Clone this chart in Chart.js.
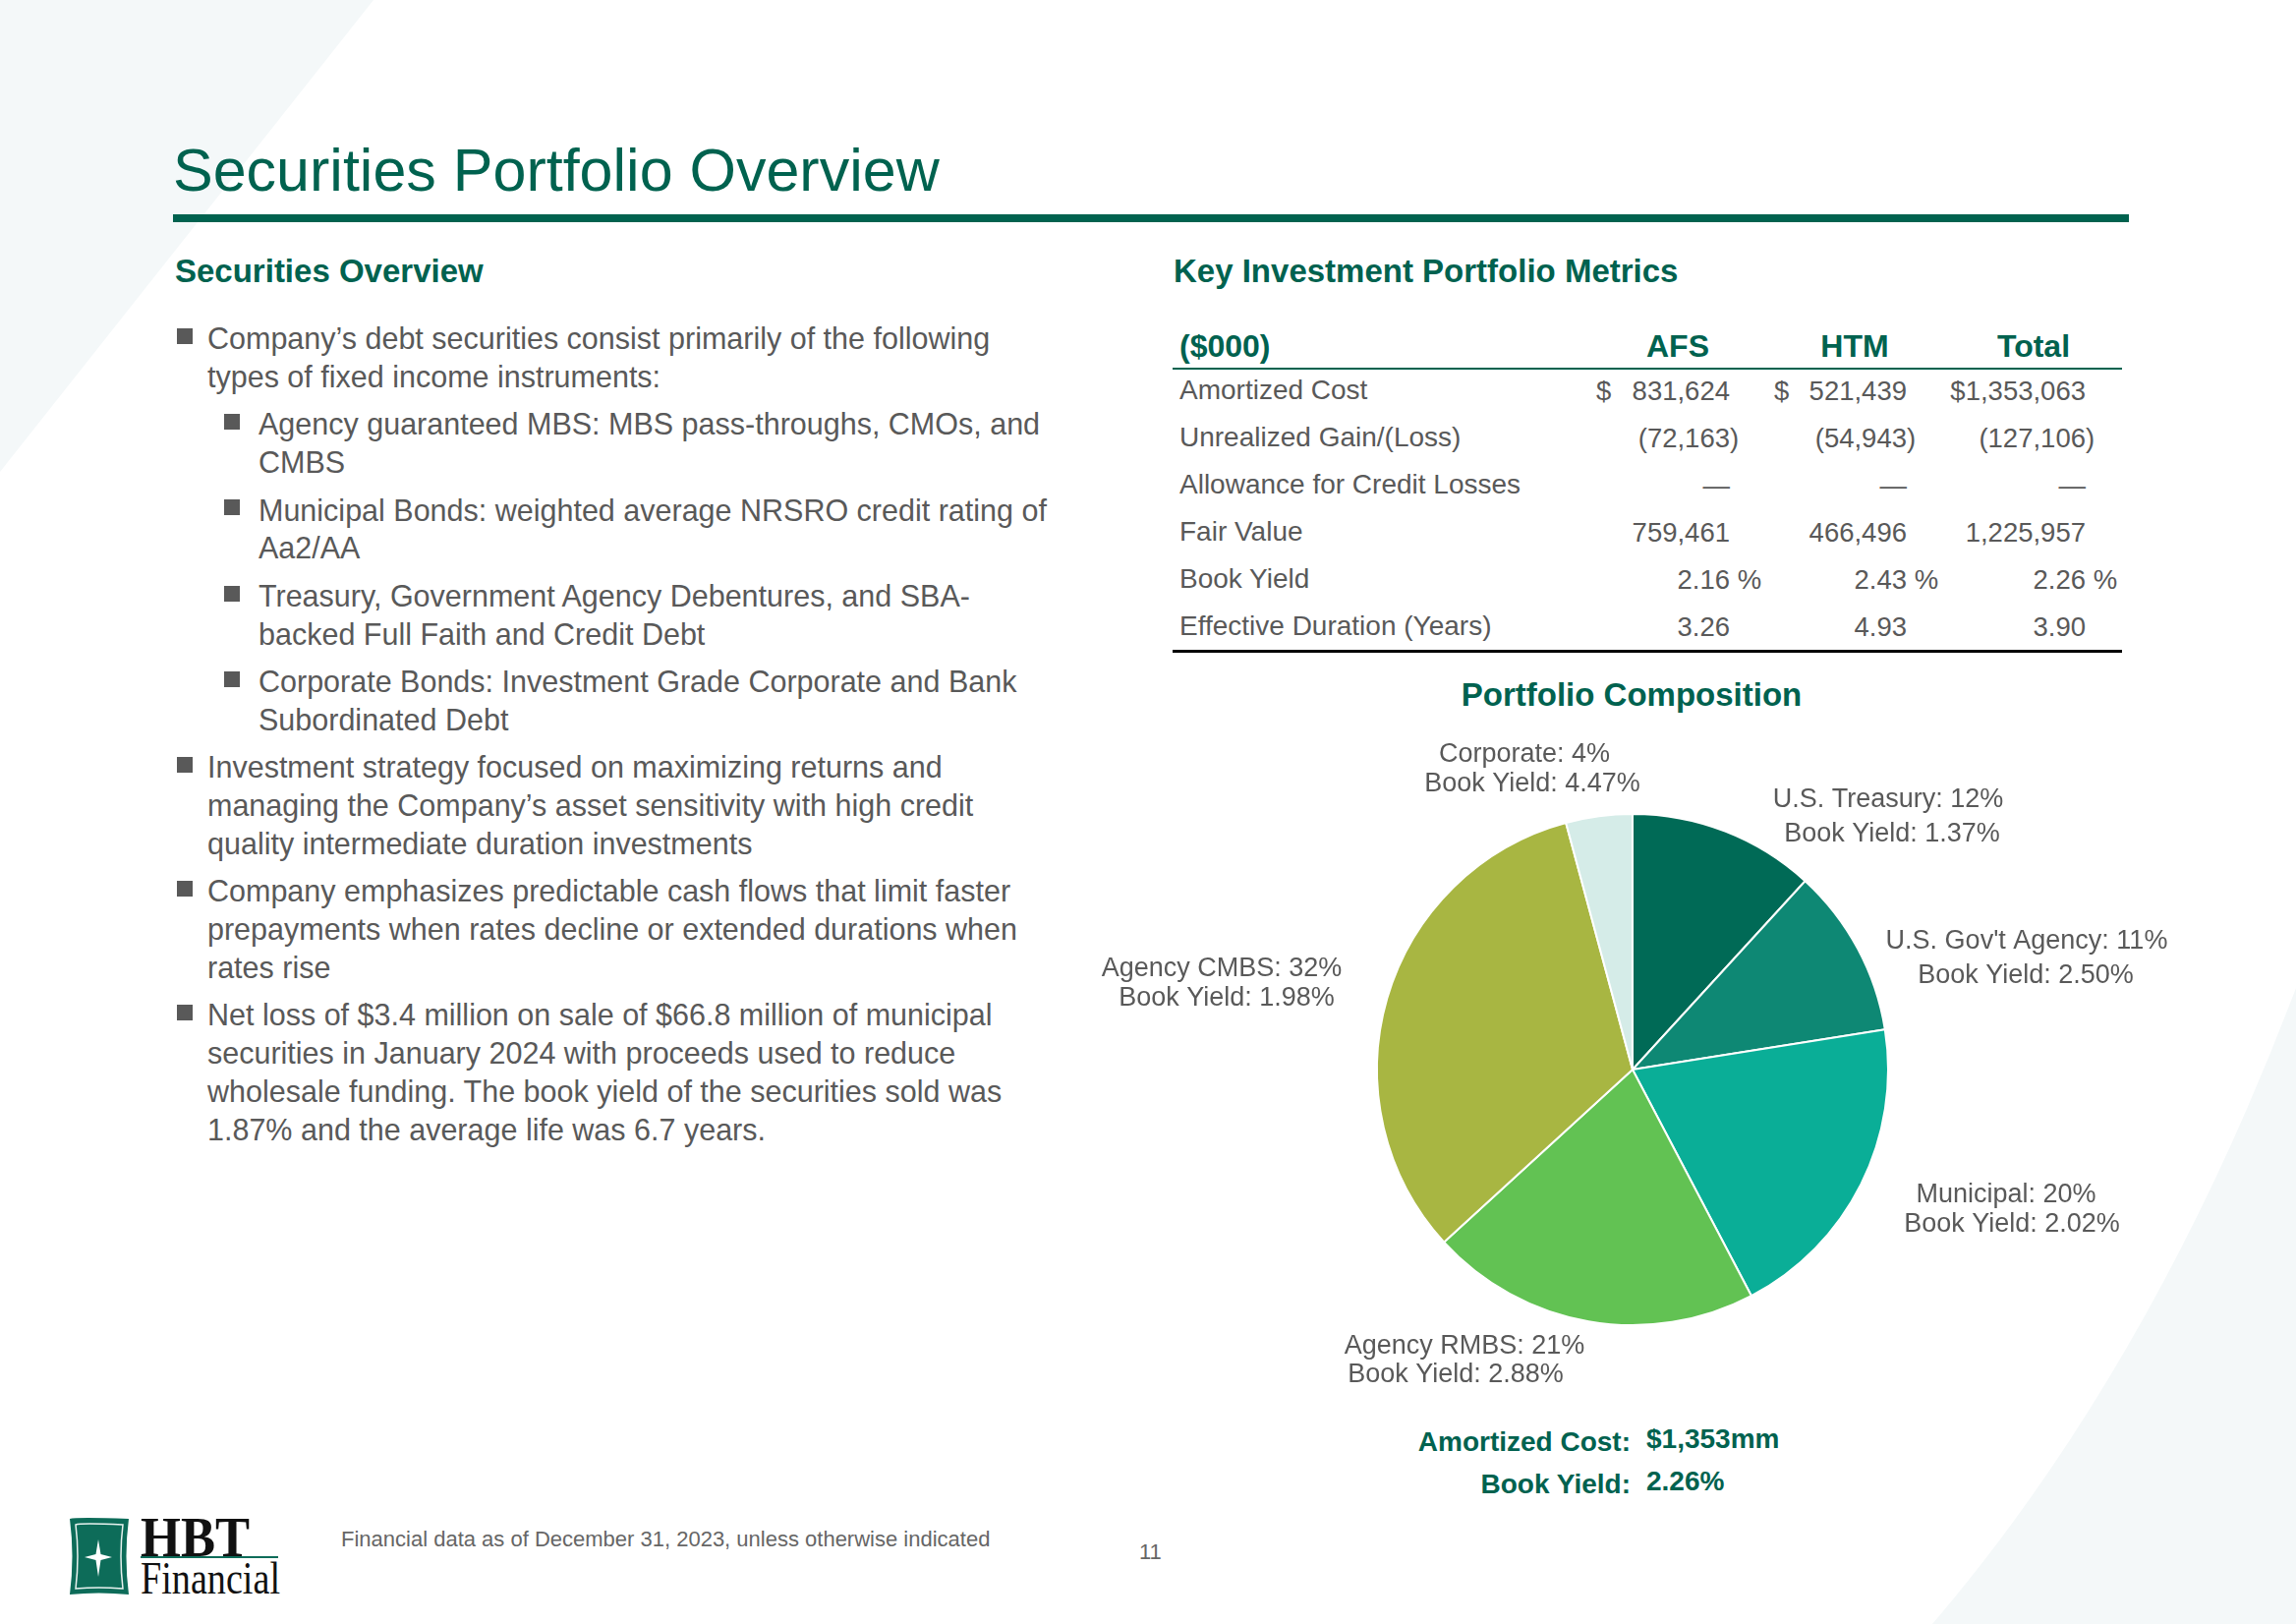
<!DOCTYPE html>
<html>
<head>
<meta charset="utf-8">
<script src="https://cdn.jsdelivr.net/npm/chart.js@4.4.1/dist/chart.umd.min.js"></script>
<style>
html, body { margin: 0; padding: 0; }
body { width: 2336px; height: 1652px; position: relative; overflow: hidden; background: #fff; font-family: "Liberation Sans", Arial, sans-serif; }
.t { position: absolute; white-space: nowrap; line-height: 1; }
.rule { position: absolute; }
.sq { position: absolute; width: 16px; height: 16px; background: #595959; }
#bg { position: absolute; left: 0; top: 0; }
#pieBox { position: absolute; left: 1081px; top: 728px; width: 1200px; height: 720px; }
</style>
</head>
<body>
<svg id="bg" width="2336" height="1652">
  <polygon points="0,0 380,0 0,480" fill="#f4f8f9"/>
  <path d="M1966,1652 Q2190,1390 2336,1005 L2336,1652 Z" fill="#f4f8f9"/>
  <!-- logo -->
  <path d="M71,1545 Q78,1543 131,1545 Q126,1583 131,1622 Q100,1619 71,1622 Q76,1583 71,1545 Z" fill="#0d6c59"/>
  <path d="M77,1551 Q82,1549 125,1551 Q121,1583 125,1616 Q100,1614 77,1616 Q81,1583 77,1551 Z" fill="none" stroke="#e8f2ef" stroke-width="1.5"/>
  <path d="M100,1566 L102.5,1581 L114,1584 L102.5,1587 L100,1604 L97.5,1587 L86,1584 L97.5,1581 Z" fill="#ffffff"/>
  <text x="143" y="1583" font-family="Liberation Serif, serif" font-weight="bold" font-size="56" fill="#111" textLength="111" lengthAdjust="spacingAndGlyphs">HBT</text>
  <line x1="143" y1="1584" x2="283" y2="1584" stroke="#0d6c59" stroke-width="2"/>
  <text x="143" y="1621" font-family="Liberation Serif, serif" font-size="46" fill="#111" textLength="142" lengthAdjust="spacingAndGlyphs">Financial</text>
</svg>
<div id="pieBox"><canvas id="pieChart"></canvas></div>
<script>
const GREEN = '#00624f';
const GRAY = '#595959';

// left column bullets: [level, lines]
const bulletLines = [
    [1, ['Company’s debt securities consist primarily of the following', 'types of fixed income instruments:']],
    [2, ['Agency guaranteed MBS: MBS pass-throughs, CMOs, and', 'CMBS']],
    [2, ['Municipal Bonds: weighted average NRSRO credit rating of', 'Aa2/AA']],
    [2, ['Treasury, Government Agency Debentures, and SBA-', 'backed Full Faith and Credit Debt']],
    [2, ['Corporate Bonds: Investment Grade Corporate and Bank', 'Subordinated Debt']],
    [1, ['Investment strategy focused on maximizing returns and', 'managing the Company’s asset sensitivity with high credit', 'quality intermediate duration investments']],
    [1, ['Company emphasizes predictable cash flows that limit faster', 'prepayments when rates decline or extended durations when', 'rates rise']],
    [1, ['Net loss of $3.4 million on sale of $66.8 million of municipal', 'securities in January 2024 with proceeds used to reduce', 'wholesale funding. The book yield of the securities sold was', '1.87% and the average life was 6.7 years.']]
];

// key metrics table ($000)
const metricNames = ['Amortized Cost', 'Unrealized Gain/(Loss)', 'Allowance for Credit Losses', 'Fair Value', 'Book Yield', 'Effective Duration (Years)'];
const tableCols = ['AFS', 'HTM', 'Total'];
const afsVals = [831624, -72163, null, 759461, 2.16, 3.26];
const htmVals = [521439, -54943, null, 466496, 2.43, 4.93];
const totalVals = [1353063, -127106, null, 1225957, 2.26, 3.90];

// portfolio composition
const sectors = ['U.S. Treasury', "U.S. Gov't Agency", 'Municipal', 'Agency RMBS', 'Agency CMBS', 'Corporate'];
const sectorShare = [11.8, 10.7, 19.8, 20.9, 32.6, 4.2];
const shareLabels = [12, 11, 20, 21, 32, 4];
const bookYields = [1.37, 2.50, 2.02, 2.88, 1.98, 4.47];
const amortizedCostMM = 1353;
const totalBookYield = 2.26;

// layout only
const sliceColors = ['#006a56', '#0e8874', '#0aae97', '#62c253', '#a8b642', '#d5ece8'];
const labelSpots = [[260, -267, 264, -232], [401, -123, 400, -88], [380, 135, 386, 165], [-171, 289, -180, 318], [-418, -95, -413, -65], [-110, -313, -102, -283]];

// place a text line by its baseline
function put(text, x, base, size, opt = {}) {
    const el = document.createElement('div');
    el.className = 't';
    el.textContent = text;
    el.style.fontSize = size + 'px';
    el.style.top = (base - 0.8465 * size) + 'px';
    if (opt.align === 'right') {
        el.style.right = (2336 - x) + 'px';
    } else if (opt.align === 'center') {
        el.style.left = x + 'px';
        el.style.transform = 'translateX(-50%)';
    } else {
        el.style.left = x + 'px';
    }
    if (opt.bold) el.style.fontWeight = 'bold';
    el.style.color = opt.color || GRAY;
    document.body.appendChild(el);
}

function rule(x, y, w, h, color) {
    const el = document.createElement('div');
    el.className = 'rule';
    Object.assign(el.style, { left: x + 'px', top: y + 'px', width: w + 'px', height: h + 'px', background: color });
    document.body.appendChild(el);
}

// header
put('Securities Portfolio Overview', 176, 195, 61, { color: GREEN });
rule(176, 218, 1990, 8, GREEN);
put('Securities Overview', 178, 287, 33, { bold: true, color: GREEN });
put('Key Investment Portfolio Metrics', 1194, 287, 33, { bold: true, color: GREEN });

// bullets
let base = 355;
bulletLines.forEach(([level, lines]) => {
    const sq = document.createElement('div');
    sq.className = 'sq';
    sq.style.left = (level === 1 ? 180 : 228) + 'px';
    sq.style.top = (base - 21) + 'px';
    document.body.appendChild(sq);
    lines.forEach(line => {
        put(line, level === 1 ? 211 : 263, base, 30.5);
        base += 38.8;
    });
    base += 9.6;
});

// table
const colRight = [1760, 1940, 2122];
const colCenter = [1707, 1887, 2069];
const dollarX = [1624, 1805];
put('($000)', 1200, 363, 32, { bold: true, color: GREEN });
tableCols.forEach((c, i) => put(c, colCenter[i], 363, 32, { bold: true, color: GREEN, align: 'center' }));
rule(1193, 374, 966, 2, GREEN);
rule(1193, 661, 966, 3, '#000');

const fmt = v => Math.abs(v).toLocaleString('en-US');
[afsVals, htmVals, totalVals].forEach((vals, ci) => {
    const x = colRight[ci];
    vals.forEach((v, ri) => {
        const b = 407 + ri * 48;
        if (ri === 0) {
            if (ci < 2) {
                put('$', dollarX[ci], b, 27.5);
                put(fmt(v), x, b, 27.5, { align: 'right' });
            } else {
                put('$' + fmt(v), x, b, 27.5, { align: 'right' });
            }
        } else if (ri === 1) {
            put('(' + fmt(v), x, b, 27.5, { align: 'right' });
            put(')', x, b, 27.5);
        } else if (ri === 2) {
            put('—', x, b, 27.5, { align: 'right' });
        } else if (ri === 3) {
            put(fmt(v), x, b, 27.5, { align: 'right' });
        } else if (ri === 4) {
            put(v.toFixed(2), x, b, 27.5, { align: 'right' });
            put('\u00a0%', x, b, 27.5);
        } else {
            put(v.toFixed(2), x, b, 27.5, { align: 'right' });
        }
    });
});
metricNames.forEach((m, ri) => put(m, 1200, 407 + ri * 48, 28));

// pie section
put('Portfolio Composition', 1660, 718, 33, { bold: true, color: GREEN, align: 'center' });
put('Amortized Cost:', 1659, 1477, 28, { bold: true, color: GREEN, align: 'right' });
put('$' + amortizedCostMM.toLocaleString('en-US') + 'mm', 1675, 1474, 28, { bold: true, color: GREEN });
put('Book Yield:', 1659, 1520, 28, { bold: true, color: GREEN, align: 'right' });
put(totalBookYield.toFixed(2) + '%', 1675, 1517, 28, { bold: true, color: GREEN });

// footer
put('Financial data as of December 31, 2023, unless otherwise indicated', 347, 1574, 22, { color: '#666' });
put('11', 1159, 1587, 22, { color: '#666' });

// slice labels drawn next to the pie
const sliceLabels = {
    id: 'sliceLabels',
    afterDraw(chart) {
        const arc = chart.getDatasetMeta(0).data[0];
        const c = chart.ctx;
        c.save();
        c.font = '27px "Liberation Sans", Arial, sans-serif';
        c.fillStyle = GRAY;
        c.textAlign = 'center';
        c.textBaseline = 'alphabetic';
        sectors.forEach((name, i) => {
            const [dx1, dy1, dx2, dy2] = labelSpots[i];
            c.fillText(`${name}: ${shareLabels[i]}%`, arc.x + dx1, arc.y + dy1);
            c.fillText(`Book Yield: ${bookYields[i].toFixed(2)}%`, arc.x + dx2, arc.y + dy2);
        });
        c.restore();
    }
};

const ctx = document.getElementById('pieChart').getContext('2d');
const chart = new Chart(ctx, {
    type: 'pie',
    data: {
        labels: sectors,
        datasets: [{
            data: sectorShare,
            backgroundColor: sliceColors,
            borderColor: '#ffffff',
            borderWidth: 2
        }]
    },
    options: {
        responsive: true,
        maintainAspectRatio: false,
        animation: false,
        layout: { padding: { left: 319, right: 359, top: 99, bottom: 99 } },
        plugins: {
            legend: { display: false },
            tooltip: { enabled: false }
        }
    },
    plugins: [sliceLabels]
});
</script>
</body>
</html>
